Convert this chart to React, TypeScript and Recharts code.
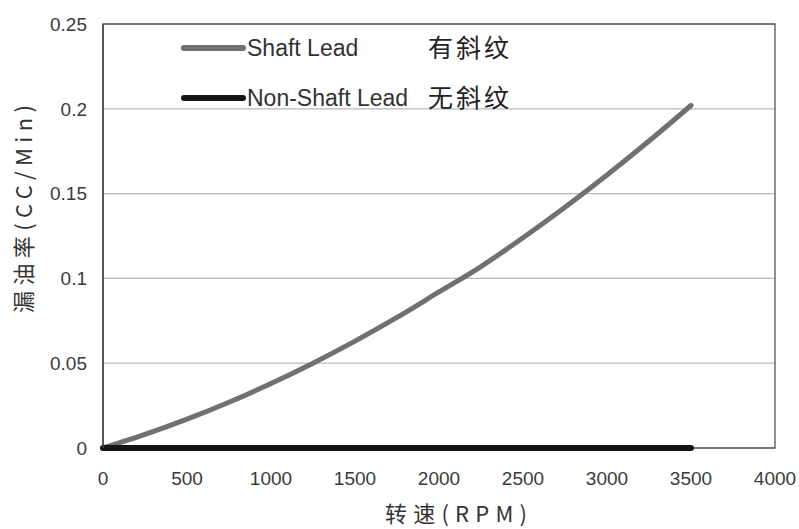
import React from "react";
import {
  LineChart,
  Line,
  XAxis,
  YAxis,
  CartesianGrid,
  ReferenceArea,
} from "recharts";

// Rotational speed (RPM)
const rpm = [0, 250, 500, 750, 1000, 1250, 1500, 1750, 2000, 2250, 2500, 2750, 3000, 3250, 3500];
// Leakage rate (CC/Min), shaft with lead
const shaftLead = [0, 0.008, 0.017, 0.027, 0.038, 0.05, 0.063, 0.077, 0.092, 0.107, 0.124, 0.142, 0.161, 0.181, 0.202];
// Leakage rate (CC/Min), shaft without lead
const nonShaftLead = [0, 0, 0, 0, 0, 0, 0, 0, 0, 0, 0, 0, 0, 0, 0];

const xTicks = [0, 500, 1000, 1500, 2000, 2500, 3000, 3500, 4000];
const yTicks = [0, 0.05, 0.1, 0.15, 0.2, 0.25];

const seriesNames = ["Shaft Lead", "Non-Shaft Lead"];
const seriesNotes = ["有斜纹", "无斜纹"];
const seriesColors = ["#707070", "#141414"];

const data = rpm.map((r, i) => ({
  rpm: r,
  shaft: shaftLead[i],
  nonShaft: nonShaftLead[i],
}));

const sans = "'Liberation Sans', Arial, sans-serif";
const cjk = "'Noto Sans CJK SC', sans-serif";

// Legend drawn as an overlay inside the plot frame
const LegendBox = () => (
  <svg
    width={360}
    height={90}
    style={{ position: "absolute", left: 180, top: 30, overflow: "visible", pointerEvents: "none" }}
  >
    {seriesNames.map((name, i) => {
      const y = 18 + i * 50;
      return (
        <g key={name}>
          <line x1={4} x2={63} y1={y} y2={y} stroke={seriesColors[i]} strokeWidth={6} strokeLinecap="round" />
          <text x={67} y={y + 8} fontFamily={sans} fontSize={23} fill="#333">
            {name}
          </text>
          <text x={248} y={y + 9} fontFamily={cjk} fontSize={25} fill="#222" letterSpacing={3}>
            {seriesNotes[i]}
          </text>
        </g>
      );
    })}
  </svg>
);

const YLabel = () => (
  <text
    transform="translate(32,209) rotate(-90)"
    textAnchor="middle"
    fontFamily={cjk}
    fontSize={22}
    fill="#333"
    textLength={208}
    lengthAdjust="spacing"
  >
    漏油率(CC/Min)
  </text>
);

const XLabel = () => (
  <text
    x={456}
    y={522}
    textAnchor="middle"
    fontFamily={cjk}
    fontSize={22}
    fill="#333"
    textLength={142}
    lengthAdjust="spacing"
  >
    转速(RPM)
  </text>
);

export default function App() {
  return (
    <div style={{ position: "absolute", left: 0, top: 0, width: 799, height: 529, background: "#fff" }}>
      <LineChart width={799} height={529} data={data} margin={{ top: 24, right: 24, bottom: 51, left: 0 }}>
        <CartesianGrid vertical={false} stroke="#b8b8b8" strokeWidth={1.2} />
        <XAxis
          dataKey="rpm"
          type="number"
          domain={[0, 4000]}
          ticks={xTicks}
          height={30}
          tickSize={0}
          tickMargin={24}
          axisLine={false}
          tick={{ fontFamily: sans, fontSize: 19, fill: "#3a3a3a" }}
          label={<XLabel />}
        />
        <YAxis
          type="number"
          domain={[0, 0.25]}
          ticks={yTicks}
          width={103}
          tickSize={0}
          tickMargin={16}
          axisLine={{ stroke: "#444", strokeWidth: 1.5 }}
          tick={{ fontFamily: sans, fontSize: 19, fill: "#3a3a3a" }}
          label={<YLabel />}
        />
        <ReferenceArea x1={0} x2={4000} y1={0} y2={0.25} fill="none" stroke="#555" strokeWidth={1.3} ifOverflow="visible" />
        <Line
          dataKey="shaft"
          name={seriesNames[0]}
          stroke={seriesColors[0]}
          strokeWidth={5}
          strokeLinecap="round"
          dot={false}
          type="monotone"
          isAnimationActive={false}
        />
        <Line
          dataKey="nonShaft"
          name={seriesNames[1]}
          stroke={seriesColors[1]}
          strokeWidth={6}
          strokeLinecap="round"
          dot={false}
          type="linear"
          isAnimationActive={false}
        />
      </LineChart>
      <LegendBox />
    </div>
  );
}
